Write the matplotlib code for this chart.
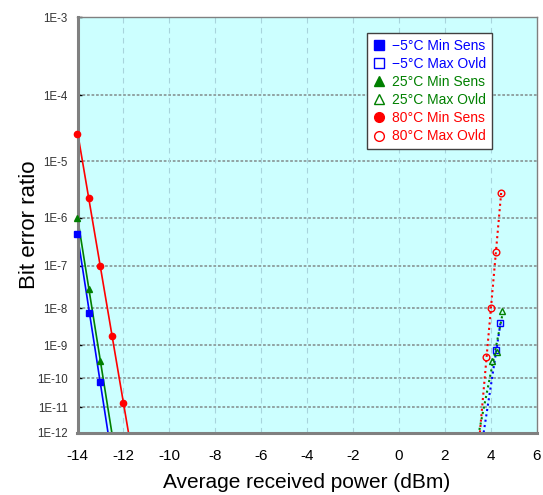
import numpy as np
import matplotlib
matplotlib.use("Agg")
import matplotlib.pyplot as plt
from matplotlib.lines import Line2D
from matplotlib.ticker import FixedLocator, NullLocator

plt.rcParams['font.family'] = ['Liberation Sans', 'DejaVu Sans']

# ---------------- data ----------------
x_m5_sens = [-14.0, -13.5, -13.0]
ber_m5_sens = [4.6e-7, 7.3e-9, 7.4e-11]
x_m5_ovld = [4.43, 4.25]
ber_m5_ovld = [3.9e-9, 7.0e-10]

x_25_sens = [-14.0, -13.5, -13.0]
ber_25_sens = [1.0e-6, 2.8e-8, 3.2e-10]
x_25_ovld = [4.50, 4.28, 4.06]
ber_25_ovld = [8.5e-9, 6.0e-10, 3.2e-10]

x_80_sens = [-14.0, -13.5, -13.0, -12.5, -12.0]
ber_80_sens = [2.6e-5, 2.2e-6, 1.0e-7, 1.8e-9, 1.35e-11]
x_80_ovld = [4.46, 4.22, 4.03, 3.82]
ber_80_ovld = [2.7e-6, 1.9e-7, 1.0e-8, 4.5e-10]

legend_labels = ["\u22125\u00b0C Min Sens", "\u22125\u00b0C Max Ovld",
                 "25\u00b0C Min Sens", "25\u00b0C Max Ovld",
                 "80\u00b0C Min Sens", "80\u00b0C Max Ovld"]
x_ticks = [-14, -12, -10, -8, -6, -4, -2, 0, 2, 4, 6]
y_exponents = np.arange(3, 13)
y_tick_labels = ["1E-%d" % e for e in y_exponents]

# ---------------- BER scale (decade spacing of the chart's axis) ----------------
decade_depth = np.array([0, 78, 144, 200.7, 248.7, 291.3, 328, 361.3, 390, 415.5])


def _interp_ext(x, xp, fp):
    x = np.asarray(x, dtype=float)
    y = np.interp(x, xp, fp)
    s0 = (fp[1] - fp[0]) / (xp[1] - xp[0])
    s1 = (fp[-1] - fp[-2]) / (xp[-1] - xp[-2])
    y = np.where(x < xp[0], fp[0] + (x - xp[0]) * s0, y)
    y = np.where(x > xp[-1], fp[-1] + (x - xp[-1]) * s1, y)
    return y


def ber_forward(b):
    b = np.clip(np.asarray(b, dtype=float), 1e-300, None)
    n = -np.log10(b)
    return -_interp_ext(n, y_exponents.astype(float), decade_depth)


def ber_inverse(v):
    v = np.asarray(v, dtype=float)
    n = _interp_ext(-v, decade_depth, y_exponents.astype(float))
    return 10.0 ** (-n)


# ---------------- figure ----------------
fig = plt.figure(figsize=(5.43, 4.95), dpi=100)
ax = fig.add_axes([77.5 / 543, 1 - 432.5 / 495, 459 / 543, 415.5 / 495])
ax.set_yscale('function', functions=(ber_forward, ber_inverse))
ax.set_xlim(-14, 6)
ax.set_ylim(1e-12, 1e-3)
ax.set_facecolor('#ccffff')

ax.yaxis.set_major_locator(FixedLocator(10.0 ** (-y_exponents)))
ax.yaxis.set_minor_locator(NullLocator())
ax.set_yticklabels(y_tick_labels)
ax.set_xticks(x_ticks)
ax.set_xticklabels([str(t) for t in x_ticks])

ax.tick_params(axis='y', direction='in', length=3, width=1, color='black',
               labelsize=8.3, labelcolor='#333333', pad=7)
ax.tick_params(axis='x', length=0, labelsize=11, pad=12)

# grids
for e in y_exponents[1:-1]:
    ax.axhline(10.0 ** (-e), color='#8c9c9c', lw=1.3, ls=(0, (1.5, 1)), zorder=1)
for xt in x_ticks[1:-1]:
    ax.axvline(xt, color='#a8d4dc', lw=0.8, ls=(0, (5, 4)), zorder=1)

for side in ['left', 'bottom']:
    ax.spines[side].set_color('#808080')
    ax.spines[side].set_linewidth(2.2)
for side in ['top', 'right']:
    ax.spines[side].set_color('#808080')
    ax.spines[side].set_linewidth(1.0)

blue = '#0000ff'
green = '#008000'
red = '#ff0000'


def fit_line(xs, bs, color, ls, lw):
    ys = ber_forward(bs)
    a, c = np.polyfit(xs, ys, 1)
    i_top = int(np.argmax(bs))
    x0 = xs[i_top]
    y_bot = float(ber_forward(1e-12))
    x1 = (y_bot - c) / a
    ax.plot([x0, x1], ber_inverse([a * x0 + c, y_bot]), color=color, ls=ls,
            lw=lw, zorder=2, solid_capstyle='butt')


series = [
    (x_m5_sens, ber_m5_sens, blue, 's', True),
    (x_m5_ovld, ber_m5_ovld, blue, 's', False),
    (x_25_sens, ber_25_sens, green, '^', True),
    (x_25_ovld, ber_25_ovld, green, '^', False),
    (x_80_sens, ber_80_sens, red, 'o', True),
    (x_80_ovld, ber_80_ovld, red, 'o', False),
]

handles = []
for xs, bs, col, mk, filled in series:
    if filled:
        fit_line(xs, bs, col, '-', 1.2)
        ms = {'s': 4.3, '^': 5.0, 'o': 4.5}[mk]
        ax.plot(xs, bs, ls='none', marker=mk, ms=ms, color=col, mec=col,
                zorder=3, clip_on=False)
        handles.append(Line2D([], [], ls='none', marker=mk, ms=7, color=col, mec=col))
    else:
        fit_line(xs, bs, col, (0, (1, 1.6)), 1.5)
        ms = {'s': 4.3, '^': 5.0, 'o': 4.8}[mk]
        ax.plot(xs, bs, ls='none', marker=mk, ms=ms, mfc='none', mec=col,
                mew=1.0, zorder=3)
        handles.append(Line2D([], [], ls='none', marker=mk, ms=7, mfc='white',
                              mec=col, mew=1.0))

leg = ax.legend(handles, legend_labels, loc='upper left',
                bbox_to_anchor=(0.631, 0.9615), fontsize=10, frameon=True,
                fancybox=False, edgecolor='#404040', facecolor='white',
                framealpha=1, handlelength=0.9, handletextpad=0.5,
                labelspacing=0.3, borderpad=0.4, borderaxespad=0)
leg.get_frame().set_linewidth(1.0)
text_colors = [blue, blue, green, green, red, red]
for t, c in zip(leg.get_texts(), text_colors):
    t.set_color(c)

ax.set_xlabel('Average received power (dBm)', fontsize=15, labelpad=7)
ax.set_ylabel('Bit error ratio', fontsize=16, labelpad=-2)

fig.savefig('out.png', dpi=100)
